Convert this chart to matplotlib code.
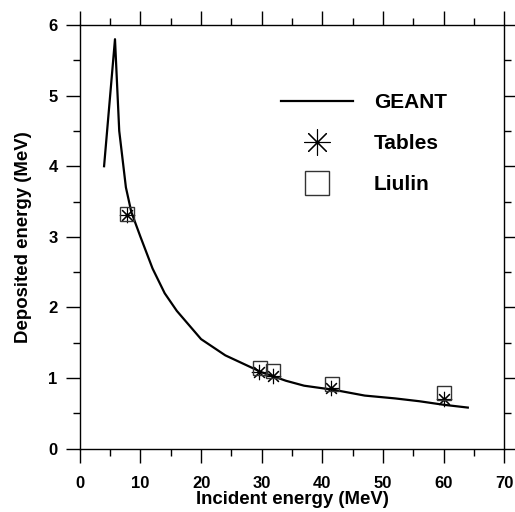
import matplotlib
matplotlib.use('agg')
import matplotlib.pyplot as plt

# GEANT simulation curve
geant_x = [4.0, 5.8, 6.5, 7.6, 8.5, 10, 12, 14, 16, 18, 20, 24, 27, 30, 32,
           34, 37, 42, 47, 52, 56, 60, 64]
geant_y = [4.0, 5.8, 4.5, 3.7, 3.35, 3.0, 2.55, 2.2, 1.95, 1.75, 1.55, 1.32,
           1.2, 1.08, 1.02, 0.96, 0.89, 0.83, 0.75, 0.71, 0.67, 0.62, 0.58]

# Tables
tables_x = [7.7, 29.6, 31.9, 41.5, 60.0]
tables_y = [3.31, 1.09, 1.03, 0.86, 0.70]

# Liulin measurements
liulin_x = [7.7, 29.7, 31.9, 41.6, 60.0]
liulin_y = [3.32, 1.14, 1.10, 0.92, 0.79]

plt.rcParams['font.family'] = ['Liberation Sans', 'DejaVu Sans']
plt.rcParams['font.weight'] = 'bold'

fig = plt.figure(figsize=(5.15, 5.12), dpi=100)
ax = fig.add_axes([0.155, 0.124, 0.824, 0.827])

ax.plot(geant_x, geant_y, color='black', lw=1.6, label='GEANT')
ax.plot(tables_x, tables_y, ls='none', marker=(8, 2, 0), ms=11, mew=0.8,
        color='black', label='Tables')
ax.plot(liulin_x, liulin_y, ls='none', marker='s', ms=10, mew=1.0,
        mfc='none', mec='#333333', label='Liulin')

ax.set_xlim(0, 70)
ax.set_ylim(0, 6)
ax.set_xticks(range(0, 71, 10))
ax.set_xticks(range(5, 70, 10), minor=True)
ax.set_yticks(range(0, 7))
ax.set_yticks([0.5 + i for i in range(6)], minor=True)

ax.tick_params(which='both', direction='out', top=True, right=True,
               labeltop=False, labelright=False, width=1.0)
ax.tick_params(which='major', length=10, labelsize=12)
ax.tick_params(axis='x', which='major', pad=10)
ax.tick_params(axis='y', which='major', pad=6)
ax.tick_params(which='minor', length=5)
for s in ax.spines.values():
    s.set_linewidth(1.0)

ax.set_xlabel('Incident energy (MeV)', fontsize=13.4, fontweight='bold', labelpad=0)
ax.set_ylabel('Deposited energy (MeV)', fontsize=13.4, fontweight='bold', labelpad=12)

leg = ax.legend(loc='upper left', bbox_to_anchor=(0.43, 0.883), frameon=False,
                fontsize=15, handlelength=3.45, handletextpad=1.0,
                labelspacing=1.05, markerscale=1.7)

fig.savefig('out.png', dpi=100)
